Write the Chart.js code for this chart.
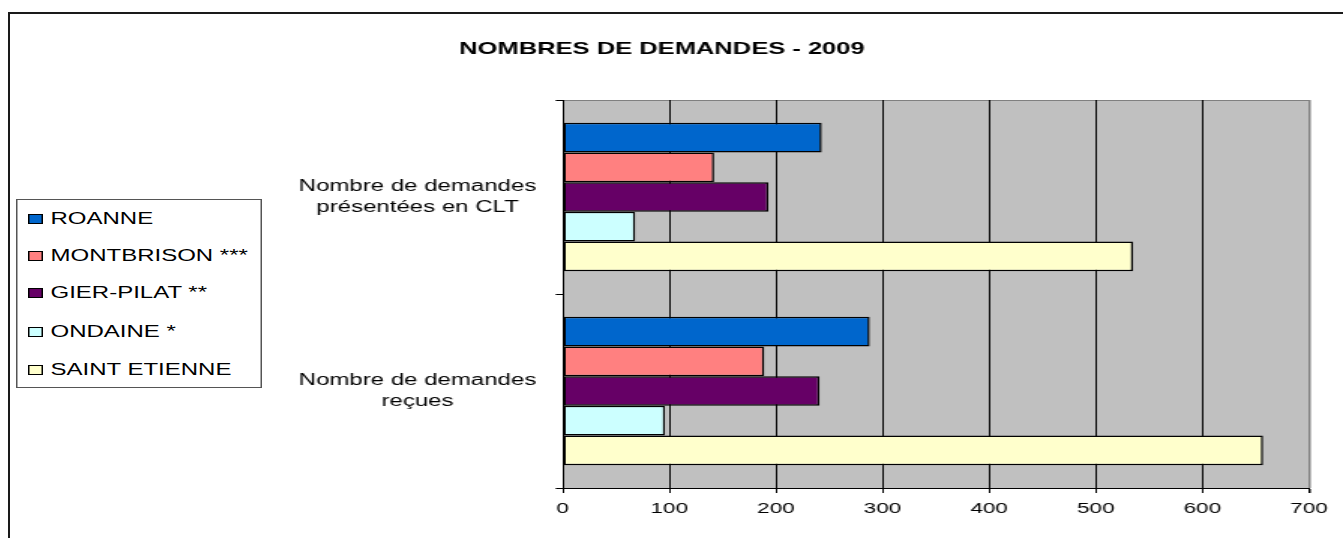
<!DOCTYPE html>
<html>
<head>
<meta charset="utf-8">
<script src="https://cdn.jsdelivr.net/npm/chart.js@4/dist/chart.umd.min.js"></script>
<style>
  body { margin: 0; width: 1343px; height: 538px; overflow: hidden; background: #fff; font-family: "Liberation Sans", Arial, sans-serif; }
  #frame { position: absolute; left: 8px; top: 12px; width: 1400px; height: 600px; border-left: 2px solid #1a1a1a; border-top: 2px solid #1a1a1a; }
  #chart { position: absolute; left: 9px; top: 13px; width: 1334px; height: 525px; }
  #legend { position: absolute; left: 16px; top: 199px; width: 162px; height: 187px; border: 1px solid #555; background: #fff;
            transform: scaleX(1.5); transform-origin: 0 0; z-index: 2; }
  #legend .item { position: absolute; left: 7px; height: 20px; display: flex; align-items: center; font-size: 16px; color: #000; white-space: nowrap; }
  #legend .sw { width: 8px; height: 8px; border: 1px solid #000; margin-right: 5px; }
</style>
</head>
<body>
<div id="frame"></div>
<div id="legend"></div>
<canvas id="chart" width="889" height="525" style="width:1334px;height:525px"></canvas>
<script>
// categories (top to bottom)
const categories = [
    ['Nombre de demandes', 'présentées en CLT'],
    ['Nombre de demandes', 'reçues']
];

// series values: [présentées en CLT, reçues]
const roanne = [243, 288];
const montbrison = [142, 189];
const gierPilat = [193, 241];
const ondaine = [68, 96];
const saintEtienne = [535, 657];

const seriesNames = ['ROANNE', 'MONTBRISON ***', 'GIER-PILAT **', 'ONDAINE  *', 'SAINT ETIENNE'];
const seriesColors = ['#0066cc', '#ff8080', '#660066', '#ccffff', '#ffffcc'];
const seriesValues = [roanne, montbrison, gierPilat, ondaine, saintEtienne];

const xTicks = [0, 100, 200, 300, 400, 500, 600, 700];

// legend (html, stretched like the original)
const legend = document.getElementById('legend');
const legendTops = [9, 46, 83, 122, 160];
seriesNames.forEach((name, i) => {
    legend.insertAdjacentHTML('beforeend',
        `<div class="item" style="top:${legendTops[i]}px"><span class="sw" style="background:${seriesColors[i]}"></span>${name}</div>`);
});

// grey plot area with top border
const plotBg = {
    id: 'plotBg',
    beforeDraw(chart) {
        const { ctx, chartArea: a } = chart;
        ctx.save();
        ctx.fillStyle = '#c0c0c0';
        ctx.fillRect(a.left, a.top, a.right - a.left, a.bottom - a.top);
        ctx.strokeStyle = '#808080';
        ctx.lineWidth = 1;
        ctx.beginPath();
        ctx.moveTo(a.left, a.top + 0.5);
        ctx.lineTo(a.right, a.top + 0.5);
        ctx.stroke();
        ctx.restore();
    }
};

const ctx = document.getElementById('chart').getContext('2d');
const chart = new Chart(ctx, {
    type: 'bar',
    data: {
        labels: categories,
        datasets: seriesNames.map((name, i) => ({
            label: name,
            data: seriesValues[i],
            backgroundColor: seriesColors[i],
            borderColor: '#000',
            borderWidth: 1.5,
            borderSkipped: false,
            barPercentage: 1,
            categoryPercentage: 0.766
        }))
    },
    options: {
        indexAxis: 'y',
        responsive: false,
        animation: false,
        devicePixelRatio: 1,
        layout: { padding: { left: 4, right: 22.7, top: 0, bottom: 0 } },
        plugins: {
            legend: { display: false },
            tooltip: { enabled: false },
            title: {
                display: true,
                text: 'NOMBRES DE DEMANDES - 2009',
                color: '#000',
                font: { family: 'Liberation Sans', size: 17, weight: 'bold' },
                padding: { top: 25.8, bottom: 40.8 }
            }
        },
        scales: {
            x: {
                min: 0,
                max: 700,
                afterBuildTicks: axis => { axis.ticks = xTicks.map(v => ({ value: v })); },
                afterFit: axis => { axis.height = 50; },
                grid: {
                    color: c => c.tick && c.tick.value === 700 ? '#808080' : '#000',
                    lineWidth: c => c.tick && c.tick.value === 700 ? 1.5 : 1,
                    tickColor: '#000',
                    tickLength: 5
                },
                border: { color: '#000', width: 1 },
                ticks: {
                    color: '#000',
                    padding: 7,
                    font: { family: 'Liberation Sans', size: 15 }
                }
            },
            y: {
                afterFit: axis => { axis.width = 365; },
                grid: {
                    offset: true,
                    drawOnChartArea: false,
                    tickColor: '#000',
                    tickLength: 4.7
                },
                border: { color: '#000', width: 1 },
                ticks: {
                    color: '#000',
                    crossAlign: 'center',
                    padding: 12.9,
                    autoSkip: false,
                    font: { family: 'Liberation Sans', size: 16, lineHeight: 1.3 }
                }
            }
        }
    },
    plugins: [plotBg]
});
</script>
</body>
</html>
